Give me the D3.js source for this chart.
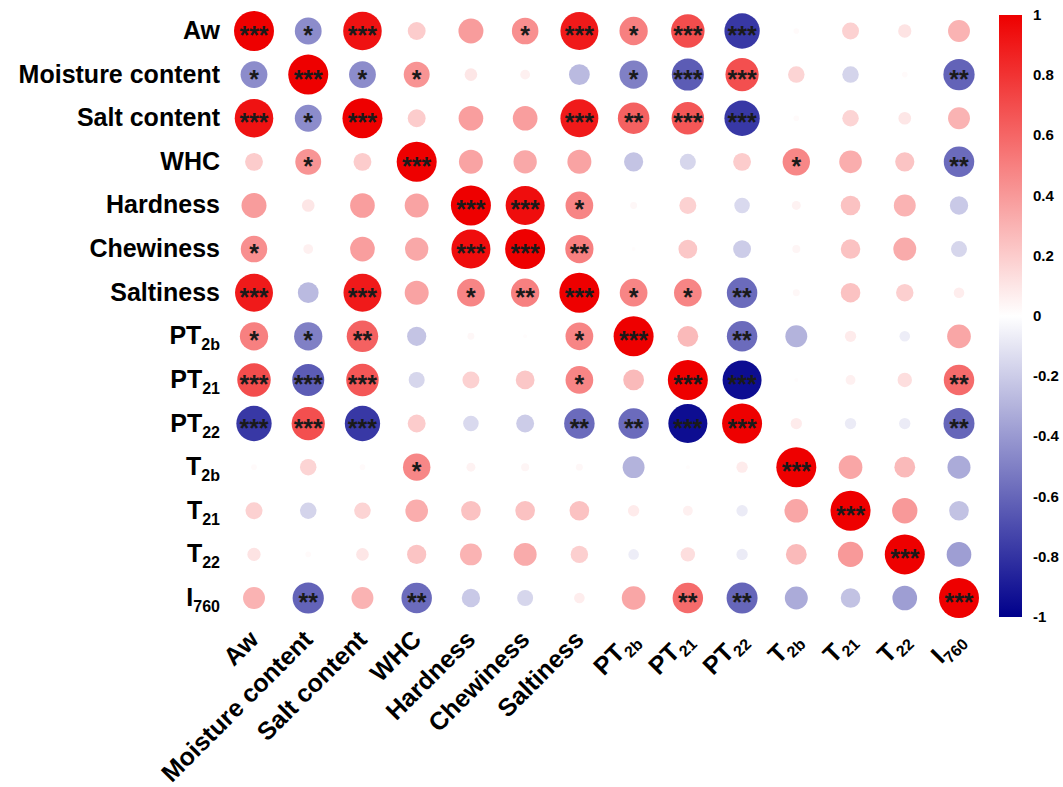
<!DOCTYPE html>
<html>
<head>
<meta charset="utf-8">
<script src="https://cdn.jsdelivr.net/npm/d3@7/dist/d3.min.js"></script>
<style>
  body { margin: 0; background: #fff; }
  text { font-family: "Liberation Sans", Arial, sans-serif; font-weight: bold; }
</style>
</head>
<body>
<div id="chart"></div>
<script>
'use strict';

// variable names, split into main text + subscript
const varMain = ['Aw', 'Moisture content', 'Salt content', 'WHC', 'Hardness', 'Chewiness', 'Saltiness',
                 'PT', 'PT', 'PT', 'T', 'T', 'T', 'I'];
const varSub = ['', '', '', '', '', '', '', '2b', '21', '22', '2b', '21', '22', '760'];

// correlation matrix
const corr = [
  [ 1.00, -0.45,  0.93,  0.20,  0.39,  0.44,  0.90,  0.50,  0.70, -0.78,  0.02,  0.18,  0.11,  0.30],
  [-0.45,  1.00, -0.45,  0.42,  0.10,  0.06, -0.27, -0.50, -0.64,  0.69,  0.17, -0.17,  0.02, -0.61],
  [ 0.93, -0.45,  1.00,  0.20,  0.38,  0.38,  0.90,  0.62,  0.66, -0.78,  0.02,  0.17,  0.10,  0.30],
  [ 0.20,  0.42,  0.20,  1.00,  0.36,  0.34,  0.36, -0.23, -0.16,  0.20,  0.47,  0.32,  0.23, -0.58],
  [ 0.39,  0.10,  0.38,  0.36,  1.00,  0.95,  0.48,  0.03,  0.18, -0.15,  0.05,  0.24,  0.30, -0.21],
  [ 0.44,  0.06,  0.38,  0.34,  0.95,  1.00,  0.50,  0.01,  0.22, -0.20,  0.04,  0.24,  0.33, -0.16],
  [ 0.90, -0.27,  0.90,  0.36,  0.48,  0.50,  1.00,  0.48,  0.48, -0.58,  0.03,  0.24,  0.19,  0.07],
  [ 0.50, -0.50,  0.62, -0.23,  0.03,  0.01,  0.48,  1.00,  0.27, -0.58, -0.30,  0.08, -0.07,  0.35],
  [ 0.70, -0.64,  0.66, -0.16,  0.18,  0.22,  0.48,  0.27,  1.00, -0.95,  0.01,  0.06,  0.13,  0.58],
  [-0.78,  0.69, -0.78,  0.20, -0.15, -0.20, -0.58, -0.58, -0.95,  1.00,  0.08, -0.08, -0.08, -0.60],
  [ 0.02,  0.17,  0.02,  0.47,  0.05,  0.04,  0.03, -0.30,  0.01,  0.08,  1.00,  0.35,  0.27, -0.33],
  [ 0.18, -0.17,  0.17,  0.32,  0.24,  0.24,  0.24,  0.08,  0.06, -0.08,  0.35,  1.00,  0.40, -0.24],
  [ 0.11,  0.02,  0.10,  0.23,  0.30,  0.33,  0.19, -0.07,  0.13, -0.08,  0.27,  0.40,  1.00, -0.38],
  [ 0.30, -0.61,  0.30, -0.58, -0.21, -0.16,  0.07,  0.35,  0.58, -0.60, -0.33, -0.24, -0.38,  1.00]
];

// significance stars
const sig = [
  ['***', '*', '***', '', '', '*', '***', '*', '***', '***', '', '', '', ''],
  ['*', '***', '*', '*', '', '', '', '*', '***', '***', '', '', '', '**'],
  ['***', '*', '***', '', '', '', '***', '**', '***', '***', '', '', '', ''],
  ['', '*', '', '***', '', '', '', '', '', '', '*', '', '', '**'],
  ['', '', '', '', '***', '***', '*', '', '', '', '', '', '', ''],
  ['*', '', '', '', '***', '***', '**', '', '', '', '', '', '', ''],
  ['***', '', '***', '', '*', '**', '***', '*', '*', '**', '', '', '', ''],
  ['*', '*', '**', '', '', '', '*', '***', '', '**', '', '', '', ''],
  ['***', '***', '***', '', '', '', '*', '', '***', '***', '', '', '', '**'],
  ['***', '***', '***', '', '', '', '**', '**', '***', '***', '', '', '', '**'],
  ['', '', '', '*', '', '', '', '', '', '', '***', '', '', ''],
  ['', '', '', '', '', '', '', '', '', '', '', '***', '', ''],
  ['', '', '', '', '', '', '', '', '', '', '', '', '***', ''],
  ['', '**', '', '**', '', '', '', '', '**', '**', '', '', '', '***']
];

const legendTicks = [1, 0.8, 0.6, 0.4, 0.2, 0, -0.2, -0.4, -0.6, -0.8, -1];

const width = 1063;
const height = 787;
const idx = d3.range(varMain.length);

const svg = d3.select('#chart').append('svg')
    .attr('width', width)
    .attr('height', height);

const x = d3.scalePoint().domain(idx).range([254, 959]);
const y = d3.scalePoint().domain(idx).range([31, 598]);
const r = d3.scaleSqrt().domain([0, 1]).range([0, 20]);
const color = d3.scaleLinear().domain([-1, 0, 1])
    .range(['#00008b', '#ffffff', '#ee0000']);

let cells = [];
corr.forEach((row, i) => row.forEach((v, j) => cells.push({i: i, j: j, v: v, s: sig[i][j]})));

svg.append('g')
    .selectAll('circle')
    .data(cells)
    .enter()
    .append('circle')
    .attr('cx', d => x(d.j))
    .attr('cy', d => y(d.i))
    .attr('r', d => r(Math.abs(d.v)))
    .attr('fill', d => color(d.v));

svg.append('g')
    .selectAll('text')
    .data(cells.filter(d => d.s !== ''))
    .enter()
    .append('text')
    .attr('x', d => x(d.j))
    .attr('y', d => y(d.i) + 13)
    .attr('text-anchor', 'middle')
    .attr('font-size', 25)
    .attr('fill', '#1a1a1a')
    .text(d => d.s);

// row labels
const rowLab = svg.append('g')
    .selectAll('text')
    .data(idx)
    .enter()
    .append('text')
    .attr('x', 220)
    .attr('y', d => y(d) + 8)
    .attr('text-anchor', 'end')
    .attr('font-size', 25)
    .attr('fill', '#000');
rowLab.append('tspan').text(d => varMain[d]);
rowLab.append('tspan')
    .attr('font-size', 16)
    .attr('dy', 6)
    .text(d => varSub[d]);

// column labels, rotated
const colLab = svg.append('g')
    .selectAll('text')
    .data(idx)
    .enter()
    .append('text')
    .attr('transform', d => `translate(${x(d) + 6},${641}) rotate(-45)`)
    .attr('text-anchor', 'end')
    .attr('font-size', 25)
    .attr('fill', '#000');
colLab.append('tspan').text(d => varMain[d]);
colLab.append('tspan')
    .attr('font-size', 16)
    .attr('dy', 6)
    .text(d => varSub[d]);

// colour bar
const barY = d3.scaleLinear().domain([1, -1]).range([15, 617]);
const defs = svg.append('defs');
const grad = defs.append('linearGradient')
    .attr('id', 'cbar')
    .attr('x1', 0).attr('y1', 0).attr('x2', 0).attr('y2', 1);
d3.range(0, 21).forEach(k => {
    const v = 1 - k * 0.1;
    grad.append('stop')
        .attr('offset', k / 20)
        .attr('stop-color', color(v));
});
svg.append('rect')
    .attr('x', 999)
    .attr('y', barY(1))
    .attr('width', 23)
    .attr('height', barY(-1) - barY(1))
    .attr('fill', 'url(#cbar)');

svg.append('g')
    .selectAll('text')
    .data(legendTicks)
    .enter()
    .append('text')
    .attr('x', 1033)
    .attr('y', d => barY(d) + 5)
    .attr('font-size', 15)
    .attr('fill', '#000')
    .text(d => d);
</script>
</body>
</html>
